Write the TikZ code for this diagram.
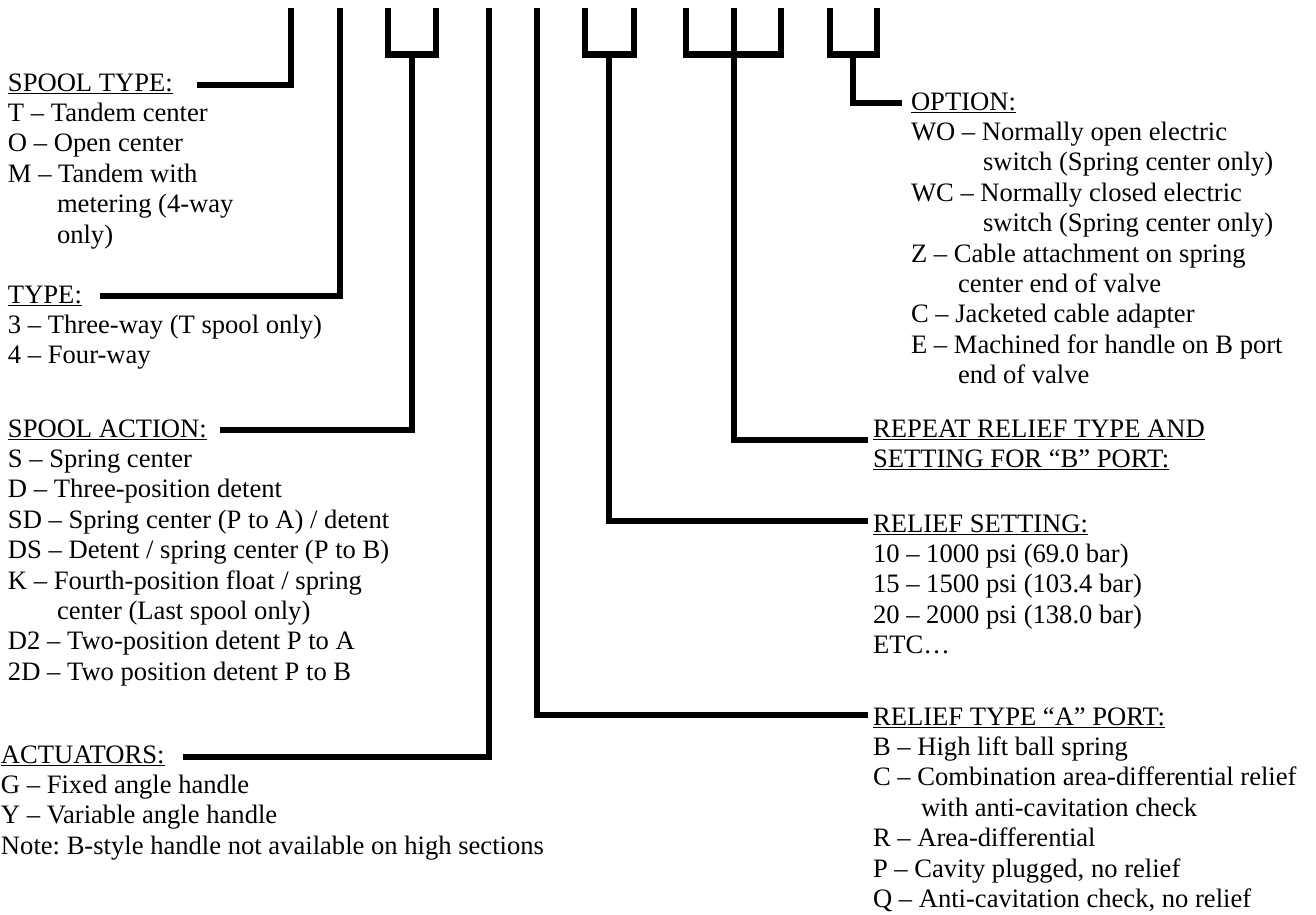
\documentclass[tikz,border=0pt]{standalone}
\usepackage{fontspec}
\setmainfont{Liberation Serif}
\frenchspacing
\newcommand\ulhd[1]{\setbox0=\hbox{#1}\rlap{\rule[-3pt]{\wd0}{1.4pt}}\box0}
\newcommand\txtblock[4]{%
  \foreach [count=\idx] \ltext in {#4} {%
    \node[txt] (#1\idx) at (#2,{#3+30.4*(\idx-1)}) {\ltext};}}
\begin{document}
\begin{tikzpicture}[x=1pt,y=-1pt,
  lead/.style={line width=6.5pt, line join=miter, line cap=butt},
  txt/.style={anchor=base west, inner sep=0pt, outer sep=0pt,
              font=\fontsize{26.6}{30.4}\selectfont}]
\useasboundingbox (0,0) rectangle (1316,914);

% ---- text blocks (left column)
\txtblock{spooltype}{8}{91}{{\ulhd{SPOOL TYPE:}},{T – Tandem center},{O – Open center},{M – Tandem with},{\hspace*{49pt}metering (4-way},{\hspace*{49pt}only)}}
\txtblock{type}{8}{303}{{\ulhd{TYPE:}},{3 – Three-way (T spool only)},{4 – Four-way}}
\txtblock{action}{8}{437}{{\ulhd{SPOOL ACTION:}},{S – Spring center},{D – Three-position detent},{SD – Spring center (P to A) / detent},{DS – Detent / spring center (P to B)},{K – Fourth-position float / spring},{\hspace*{49pt}center (Last spool only)},{D2 – Two-position detent P to A},{2D – Two position detent P to B}}
\txtblock{actuators}{1}{763}{{\ulhd{ACTUATORS:}},{G – Fixed angle handle},{Y – Variable angle handle},{Note: B-style handle not available on high sections}}

% ---- text blocks (right column)
\txtblock{option}{911}{110}{{\ulhd{OPTION:}},{WO – Normally open electric},{\hspace*{72pt}switch (Spring center only)},{WC – Normally closed electric},{\hspace*{72pt}switch (Spring center only)},{Z – Cable attachment on spring},{\hspace*{47pt}center end of valve},{C – Jacketed cable adapter},{E – Machined for handle on B port},{\hspace*{47pt}end of valve}}
\txtblock{repeat}{873}{437}{{\ulhd{REPEAT RELIEF TYPE AND}},{\ulhd{SETTING FOR “B” PORT:}}}
\txtblock{setting}{873}{532}{{\ulhd{RELIEF SETTING:}},{10 – 1000 psi (69.0 bar)},{15 – 1500 psi (103.4 bar)},{20 – 2000 psi (138.0 bar)},{ETC…}}
\txtblock{reliefa}{873}{725}{{\ulhd{RELIEF TYPE “A” PORT:}},{B – High lift ball spring},{C – Combination area-differential relief},{\hspace*{48pt}with anti-cavitation check},{R – Area-differential},{P – Cavity plugged, no relief},{Q – Anti-cavitation check, no relief}}

% ---- connector ends
\coordinate (t1) at (291,8);   \coordinate (e1) at (197,85);
\coordinate (t2) at (340,8);   \coordinate (e2) at (100,296);
\coordinate (b1l) at (388,8);  \coordinate (b1r) at (436,8);  \coordinate (b1s) at (412,54.5); \coordinate (e3) at (220,430);
\coordinate (t4) at (489,8);   \coordinate (e4) at (183,757);
\coordinate (t5) at (537,8);   \coordinate (e5) at (868,715);
\coordinate (b2l) at (585,8);  \coordinate (b2r) at (634,8);  \coordinate (b2s) at (609,54.5); \coordinate (e6) at (868,521);
\coordinate (b3l) at (686,8);  \coordinate (b3r) at (781,8);  \coordinate (b3m) at (734,8);    \coordinate (e7) at (868,440);
\coordinate (b4l) at (830,8);  \coordinate (b4r) at (877,8);  \coordinate (b4s) at (853,54.5); \coordinate (e8) at (902,103);

% ---- connectors
\draw[lead] (t1) |- (e1);
\draw[lead] (t2) |- (e2);
\draw[lead] (b1l) -- (b1l |- b1s) -- (b1r |- b1s) -- (b1r);
\draw[lead] (b1s) |- (e3);
\draw[lead] (t4) |- (e4);
\draw[lead] (t5) |- (e5);
\draw[lead] (b2l) -- (b2l |- b2s) -- (b2r |- b2s) -- (b2r);
\draw[lead] (b2s) |- (e6);
\draw[lead] (b3l) -- (b3l |- b2s) -- (b3r |- b2s) -- (b3r);
\draw[lead] (b3m) |- (e7);
\draw[lead] (b4l) -- (b4l |- b4s) -- (b4r |- b4s) -- (b4r);
\draw[lead] (b4s) |- (e8);
\end{tikzpicture}
\end{document}
